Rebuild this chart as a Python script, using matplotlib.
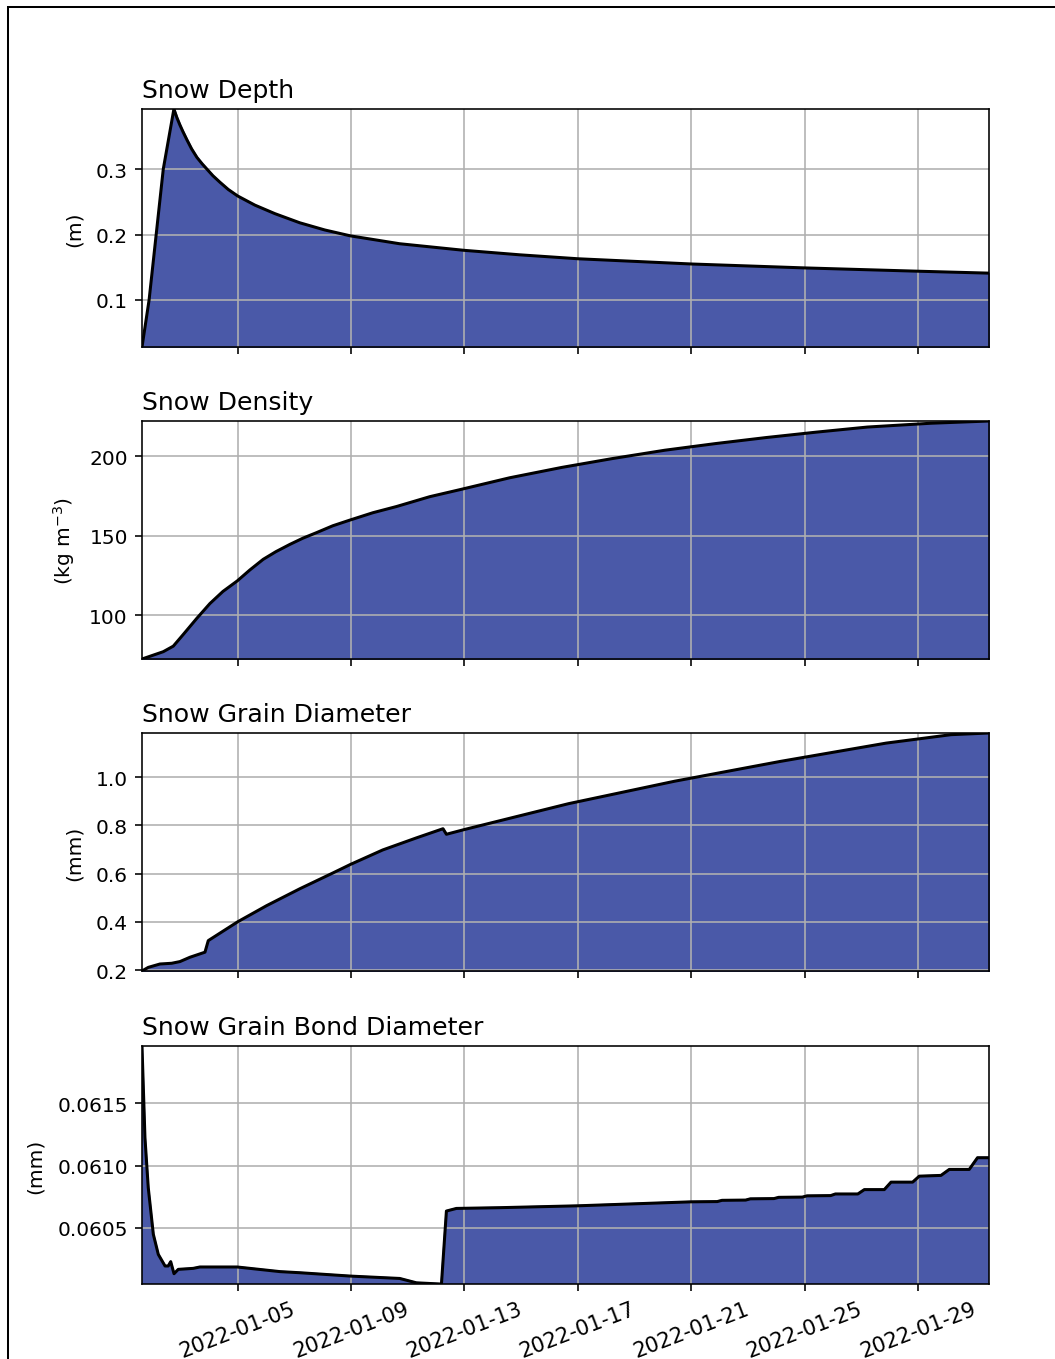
import numpy as np
import pandas as pd
import matplotlib
matplotlib.use("Agg")
import matplotlib.pyplot as plt
import matplotlib.dates as mdates
from matplotlib.ticker import FormatStrFormatter
from matplotlib.patches import Rectangle

start = pd.Timestamp("2022-01-01 15:00")

# snow depth (m)
depth_h = [0, 6, 12, 18, 27, 29.5, 32, 34.5, 38, 42, 46.5, 51, 55, 60, 66, 73, 81, 95.6, 112.5,
           133.6, 154.8, 176.5, 218, 272, 320, 369, 465, 561, 656, 717]
depth = [0.028, 0.10, 0.20, 0.30, 0.392, 0.379, 0.368, 0.358, 0.345, 0.331, 0.318, 0.308, 0.300,
         0.290, 0.280, 0.269, 0.259, 0.245, 0.232, 0.218, 0.207, 0.198, 0.186, 0.176, 0.169,
         0.163, 0.155, 0.149, 0.144, 0.141]

# snow density (kg m-3)
dens_h = [0, 18, 26.5, 35, 46.3, 57.5, 68.5, 80.6, 91.3, 102.6, 113.3, 125.2, 136.2, 147.8,
          161.5, 176.5, 195.4, 215.4, 243.6, 269, 311.3, 355.3, 397.6, 442.4, 485.5, 528.4,
          570.9, 614.1, 667.9, 717]
dens = [72.5, 77.1, 80.6, 88, 98, 107.4, 115, 121.6, 128.5, 135.2, 140, 144.6, 148.5, 152,
        156.3, 160, 164.5, 168.4, 174.6, 179, 186.5, 193, 198.5, 203.8, 208, 211.8,
        215.2, 218.4, 220.8, 222.2]

# grain diameter (mm)
grain_h = [0, 5.3, 15.2, 25.1, 32.1, 40.6, 53.3, 56.1, 81, 105.5, 133.6, 161.8, 176.5, 203.8,
           232.3, 254.8, 257.7, 273.2, 302.8, 361.2, 450.9, 540.2, 629.9, 684.8, 717]
grain = [0.196, 0.211, 0.225, 0.228, 0.235, 0.253, 0.274, 0.322, 0.40, 0.467, 0.537, 0.603, 0.638,
         0.698, 0.748, 0.786, 0.763, 0.783, 0.819, 0.89, 0.983, 1.065, 1.141, 1.176, 1.183]

# grain bond diameter (mm)
bond_h = [0, 2.5, 5.3, 9.6, 13.8, 19.5, 22.2, 24.3, 27.1, 30.7, 43.4, 49, 80.6, 116.7, 133.6,
          176.5, 218.2, 232.3, 253.5, 257.7, 266.2, 302.8, 368.8, 465,
          487, 491, 511, 515, 535, 539, 559, 563, 583, 587, 606, 611.5, 628.4, 634.1,
          652.4, 658, 676.4, 683.4, 700.3, 707.3, 717]
bond = [0.06196, 0.061225, 0.060823, 0.060449, 0.060288, 0.060195, 0.060195, 0.06023, 0.060133,
        0.060168, 0.060176, 0.060187, 0.060187, 0.06015, 0.060141, 0.060114, 0.060095, 0.06006,
        0.06005, 0.060636, 0.060657, 0.060663, 0.060678, 0.06071,
        0.060712, 0.060722, 0.060724, 0.060734, 0.060736, 0.060746, 0.060748, 0.060758,
        0.06076, 0.060773, 0.060773, 0.060808, 0.060808, 0.060868,
        0.060868, 0.060916, 0.060922, 0.06097, 0.06097, 0.061064, 0.061064]

titles = ["Snow Depth", "Snow Density", "Snow Grain Diameter", "Snow Grain Bond Diameter"]
ylabels = ["(m)", "(kg m$^{-3}$)", "(mm)", "(mm)"]
yticks = [[0.1, 0.2, 0.3], [100, 150, 200], [0.2, 0.4, 0.6, 0.8, 1.0], [0.0605, 0.0610, 0.0615]]
yfmts = ["%.1f", "%d", "%.1f", "%.4f"]

series = [(depth_h, depth), (dens_h, dens), (grain_h, grain), (bond_h, bond)]

fill_color = "#4A59A8"

fig = plt.figure(figsize=(1055 / 145, 1360 / 145), dpi=145)
bottoms = [0.7441, 0.5147, 0.2853, 0.0551]

# frame around figure (cropped at right/bottom)
fig.patches.append(Rectangle((8 / 1055, -0.2), 2.0, 0.2 + 1 - 7.5 / 1360,
                             transform=fig.transFigure, fill=False,
                             edgecolor="black", linewidth=1.0, clip_on=False))

axes = []
for i, (hrs, vals) in enumerate(series):
    ax = fig.add_axes([0.1346, bottoms[i], 0.8028, 0.175], sharex=axes[0] if axes else None)
    t = start + pd.to_timedelta(hrs, unit="h")
    ax.fill_between(t, vals, 0, color=fill_color)
    ax.plot(t, vals, color="black", linewidth=1.5)
    ax.set_ylim(min(vals), max(vals))
    ax.set_xlim(t[0], t[-1])
    ax.set_yticks(yticks[i])
    ax.yaxis.set_major_formatter(FormatStrFormatter(yfmts[i]))
    ax.set_ylabel(ylabels[i], labelpad=6)
    ax.set_title(titles[i], loc="left", fontsize=12.5)
    ax.grid(True)
    axes.append(ax)

axes[0].xaxis.set_major_locator(mdates.DayLocator(bymonthday=[5, 9, 13, 17, 21, 25, 29]))
axes[0].xaxis.set_major_formatter(mdates.DateFormatter("%Y-%m-%d"))
for ax in axes[:-1]:
    ax.tick_params(labelbottom=False)
for lbl in axes[-1].get_xticklabels():
    lbl.set_rotation(21)
    lbl.set_ha("center")
    lbl.set_fontsize(10.5)

fig.savefig("out.png", dpi=145)
